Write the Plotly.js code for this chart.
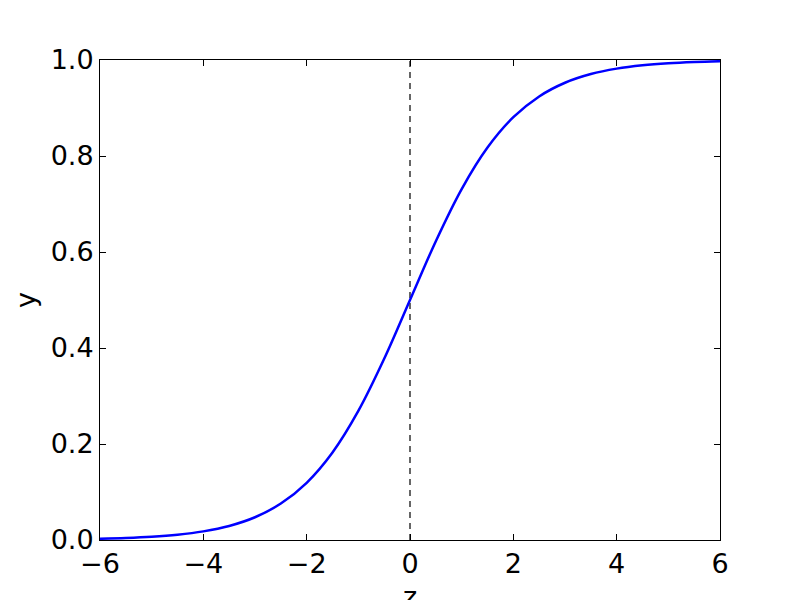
<!DOCTYPE html>
<html>
<head>
<meta charset="utf-8">
<script src="https://cdn.plot.ly/plotly-3.0.1.min.js"></script>
<style>html,body{margin:0;padding:0;background:#fff}#chart{width:800px;height:600px}</style>
</head>
<body>
<div id="chart"></div>
<script>
// values
var zValues = [-6, -5.5, -5, -4.5, -4, -3.5, -3, -2.5, -2, -1.5, -1, -0.5, 0, 0.5, 1, 1.5, 2, 2.5, 3, 3.5, 4, 4.5, 5, 5.5, 6];
var yValues = [0.0025, 0.0041, 0.0067, 0.0110, 0.0180, 0.0293, 0.0474, 0.0759, 0.1192, 0.1824, 0.2689, 0.3775, 0.5, 0.6225, 0.7311, 0.8176, 0.8808, 0.9241, 0.9526, 0.9707, 0.9820, 0.9890, 0.9933, 0.9959, 0.9975];
var refLineX = [0, 0];
var refLineY = [0, 1];
var xTicks = [-6, -4, -2, 0, 2, 4, 6];
var yTicks = [0, 0.2, 0.4, 0.6, 0.8, 1.0];
var xTitle = 'z';
var yTitle = 'y';

var traces = [
  {x: refLineX, y: refLineY, mode: 'lines', line: {color: '#000', width: 1.2, dash: '6px,5px'}, hoverinfo: 'skip'},
  {x: zValues, y: yValues, mode: 'lines', line: {color: '#0000ff', width: 2.5, shape: 'spline'}}
];

var fontFam = '"DejaVu Sans", sans-serif';
var layout = {
  width: 800, height: 600,
  margin: {l: 100, r: 80, t: 60, b: 60},
  paper_bgcolor: '#fff', plot_bgcolor: '#fff',
  showlegend: false,
  font: {family: fontFam, size: 27, color: '#000'},
  xaxis: {
    range: [-6, 6], tickvals: xTicks, ticktext: xTicks.map(function(v){return v < 0 ? '\u2212' + Math.abs(v) : String(v);}),
    ticks: 'inside', ticklen: 6, tickwidth: 1, tickcolor: '#000',
    showline: true, linecolor: '#000', linewidth: 1, mirror: 'ticks',
    showgrid: false, zeroline: false
  },
  yaxis: {
    range: [0, 1], tickvals: yTicks, ticktext: yTicks.map(function(v){return v.toFixed(1);}),
    ticks: 'inside', ticklen: 6, tickwidth: 1, tickcolor: '#000',
    showline: true, linecolor: '#000', linewidth: 1, mirror: 'ticks',
    showgrid: false, zeroline: false,
    title: {text: yTitle, font: {family: fontFam, size: 27}, standoff: 7}
  },
  annotations: [
    {text: xTitle, xref: 'paper', yref: 'paper', x: 0.5, y: -0.1167, xanchor: 'center', yanchor: 'middle',
     showarrow: false, font: {family: fontFam, size: 27, color: '#000'}}
  ]
};
Plotly.newPlot('chart', traces, layout, {displayModeBar: false, staticPlot: true});
</script>
</body>
</html>
